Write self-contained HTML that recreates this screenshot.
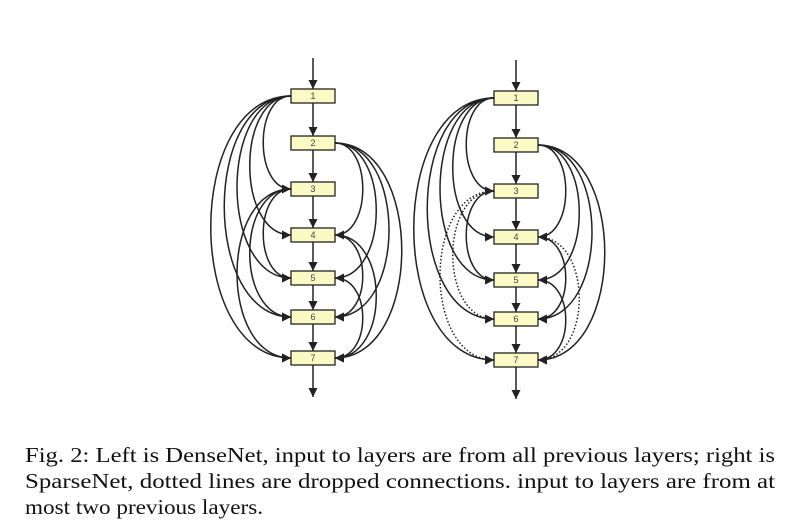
<!DOCTYPE html>
<html><head><meta charset="utf-8"><style>
body{margin:0;background:#fff;width:800px;height:527px;overflow:hidden;position:relative}
</style></head><body>
<svg width="800" height="527" style="position:absolute;left:0;top:0">
<defs>
<marker id="a" viewBox="0 0 10 10" refX="10" refY="5" markerWidth="9" markerHeight="9" markerUnits="userSpaceOnUse" orient="auto"><path d="M0,0 L10,5 L0,10 z" fill="#222"/></marker>
<g id="boxes" font-family="Liberation Sans,sans-serif" font-size="9" fill="#444" text-anchor="middle">
<g fill="#fbf9c4" stroke="#222" stroke-width="1.3">
<rect x="291" y="89" width="44" height="14"/><rect x="291" y="136" width="44" height="14"/>
<rect x="291" y="182" width="44" height="14"/><rect x="291" y="228" width="44" height="14"/>
<rect x="291" y="271" width="44" height="14"/><rect x="291" y="310" width="44" height="14"/>
<rect x="291" y="351" width="44" height="14"/>
</g>
<text x="313" y="99">1</text><text x="313" y="146">2</text><text x="313" y="192">3</text><text x="313" y="238">4</text><text x="313" y="281">5</text><text x="313" y="320">6</text><text x="313" y="361">7</text>
</g>
<g id="common" fill="none" stroke="#222" stroke-width="1.5" marker-end="url(#a)">
<path d="M313,58 L313,89"/><path d="M313,103 L313,136"/><path d="M313,150 L313,182"/><path d="M313,196 L313,228"/><path d="M313,242 L313,271"/><path d="M313,285 L313,310"/><path d="M313,324 L313,351"/><path d="M313,365 L313,397"/>
<path d="M291,96 C254,96 254,189 291,189"/>
<path d="M291,96 C236,96 236,235 291,235"/>
<path d="M291,96 C219,96 219,278 291,278"/>
<path d="M291,96 C202,96 202,317 291,317"/>
<path d="M291,96 C184,96 184,358 291,358"/>
<path d="M291,189 C254,189 254,278 291,278"/>
<path d="M335,143 C372,143 372,235 335,235"/>
<path d="M335,143 C390,143 390,278 335,278"/>
<path d="M335,143 C407,143 407,317 335,317"/>
<path d="M335,143 C424,143 424,358 335,358"/>
<path d="M335,235 C372,235 372,317 335,317"/>
<path d="M335,278 C372,278 372,358 335,358"/>
</g>
</defs>
<use href="#common"/>
<g fill="none" stroke="#222" stroke-width="1.5" marker-end="url(#a)">
<path d="M291,189 C236,189 236,317 291,317"/>
<path d="M291,189 C219,189 219,358 291,358"/>
<path d="M335,235 C390,235 390,358 335,358"/>
</g>
<use href="#boxes"/>
<g transform="translate(203,2)">
<use href="#common"/>
<g fill="none" stroke="#222" stroke-width="1.5" stroke-dasharray="1.5,2" marker-end="url(#a)">
<path d="M291,189 C236,189 236,317 291,317"/>
<path d="M291,189 C219,189 219,358 291,358"/>
<path d="M335,235 C390,235 390,358 335,358"/>
</g>
<use href="#boxes"/>
</g>
<g font-family="Liberation Serif,serif" font-size="21" fill="#111">
<text x="25" y="462" textLength="750" lengthAdjust="spacingAndGlyphs">Fig. 2: Left is DenseNet, input to layers are from all previous layers; right is</text>
<text x="25" y="488" textLength="750" lengthAdjust="spacingAndGlyphs">SparseNet, dotted lines are dropped connections. input to layers are from at</text>
<text x="25" y="514" textLength="238" lengthAdjust="spacingAndGlyphs">most two previous layers.</text>
</g>
</svg>
</body></html>
